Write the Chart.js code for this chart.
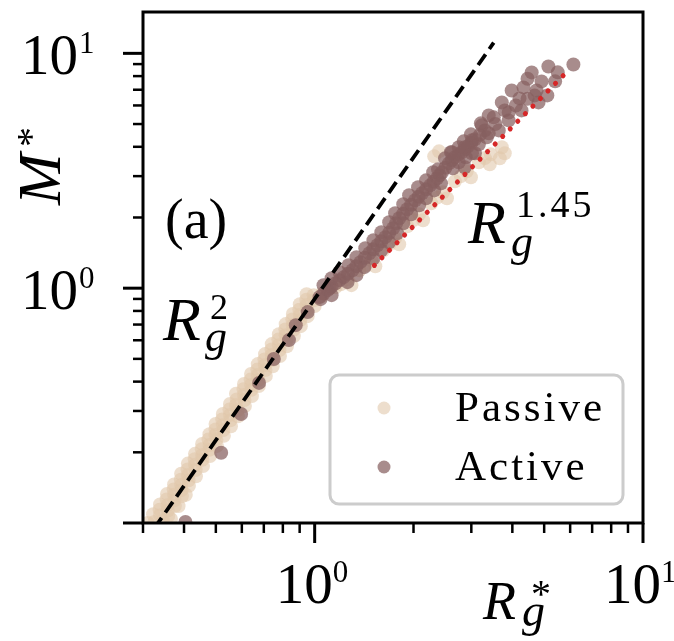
<!DOCTYPE html>
<html>
<head>
<meta charset="utf-8">
<script src="https://cdn.jsdelivr.net/npm/chart.js@4.4.1/dist/chart.umd.min.js"></script>
<style>
  html, body { margin: 0; padding: 0; background: #fff; }
  canvas { display: block; }
</style>
</head>
<body>
<canvas id="grafico" width="674" height="641"></canvas>
<script>
// Passive: dense band along R^2 (below 1), then the flatter branch above 1
const passiveR = [
  0.322, 0.338, 0.358, 0.338, 0.356, 0.375, 0.355, 0.373, 0.394, 0.373, 0.392, 0.414,
  0.392, 0.411, 0.435, 0.411, 0.432, 0.457, 0.432, 0.454, 0.480, 0.454, 0.478, 0.504,
  0.478, 0.499, 0.529, 0.499, 0.525, 0.556, 0.525, 0.552, 0.584, 0.552, 0.576, 0.613,
  0.576, 0.609, 0.644, 0.609, 0.640, 0.676, 0.640, 0.671, 0.710, 0.671, 0.705, 0.745,
  0.706, 0.740, 0.784, 0.740, 0.778, 0.823, 0.778, 0.816, 0.864, 0.816, 0.858, 0.907,
  0.858, 0.901, 0.952, 0.901, 0.945, 1.000, 0.945, 0.993, 1.050,
  0.337, 0.357, 0.354, 0.374, 0.372, 0.393, 0.391, 0.413, 0.410, 0.434, 0.431, 0.455,
  0.453, 0.478, 0.475, 0.502, 0.499, 0.527, 0.523, 0.554, 0.550, 0.583, 0.579, 0.611,
  0.607, 0.642, 0.638, 0.674, 0.669, 0.708, 0.703, 0.743, 0.739, 0.781, 0.775, 0.821,
  0.814, 0.861, 0.855, 0.904, 0.898, 0.949, 0.943, 0.997,
  0.310, 0.325, 0.345, 0.365, 0.385, 0.405,
  1.057, 1.158, 1.259, 1.368, 1.489, 1.618, 1.758, 1.913, 2.080, 2.264, 2.460, 2.673,
  2.905, 3.163, 3.438, 3.715,
  2.392, 2.312, 3.663, 3.793, 3.414,
  1.294, 1.530, 1.809, 2.139, 2.529, 2.992,
  1.20, 1.43, 1.69, 2.00, 2.36, 2.79, 3.30
];
const passiveM = [
  0.109, 0.108, 0.107, 0.120, 0.119, 0.118, 0.133, 0.132, 0.130, 0.146, 0.145, 0.144,
  0.162, 0.160, 0.158, 0.179, 0.177, 0.175, 0.197, 0.195, 0.193, 0.217, 0.215, 0.213,
  0.239, 0.237, 0.235, 0.264, 0.261, 0.258, 0.291, 0.288, 0.285, 0.321, 0.318, 0.315,
  0.355, 0.351, 0.347, 0.391, 0.387, 0.383, 0.431, 0.427, 0.423, 0.475, 0.470, 0.465,
  0.524, 0.519, 0.514, 0.578, 0.572, 0.566, 0.637, 0.631, 0.625, 0.703, 0.696, 0.689,
  0.776, 0.768, 0.760, 0.855, 0.847, 0.839, 0.943, 0.934, 0.925,
  0.114, 0.113, 0.126, 0.125, 0.139, 0.138, 0.153, 0.152, 0.169, 0.168, 0.187, 0.186,
  0.206, 0.205, 0.227, 0.226, 0.250, 0.249, 0.276, 0.274, 0.304, 0.302, 0.336, 0.334,
  0.371, 0.369, 0.408, 0.406, 0.450, 0.448, 0.497, 0.494, 0.548, 0.545, 0.604, 0.601,
  0.667, 0.663, 0.735, 0.731, 0.810, 0.806, 0.893, 0.889,
  0.100, 0.101, 0.102, 0.104, 0.118, 0.132,
  0.952, 1.010, 1.092, 1.193, 1.315, 1.450, 1.632, 1.835, 2.064, 2.299, 2.560, 2.851,
  3.146, 3.434, 3.715, 3.981,
  3.826, 3.642, 3.572, 3.752, 3.368,
  1.030, 1.240, 1.538, 1.946, 2.414, 2.967,
  1.04, 1.25, 1.54, 1.95, 2.43, 3.00, 3.58
];

// Active: a few points on the R^2 part, then a thick band up to ~6
const activeR = [
  0.404, 0.519, 0.597, 0.677, 0.751, 0.835, 0.876, 0.952, 1.042, 1.110,
  1.035, 1.095, 1.158, 1.225, 1.303, 1.378, 1.468, 1.552, 1.641, 1.734,
  1.809, 1.913, 2.023, 2.124, 2.248, 2.360, 2.443, 2.563, 2.673, 2.806,
  2.929, 3.076, 3.298,
  1.065, 1.126, 1.191, 1.263, 1.340, 1.422, 1.509, 1.596, 1.687, 1.771, 1.860,
  1.967, 2.073, 2.185, 2.303, 2.401, 2.502, 2.617, 2.739, 2.867, 3.002, 3.185,
  1.190, 1.340, 1.510, 1.686, 1.861, 2.065, 2.296, 2.494,
  1.064, 1.126, 1.268, 1.426, 1.596, 1.758, 1.939, 2.184, 2.375, 2.600, 2.845, 2.992, 3.208,
  1.259, 1.417, 1.596, 1.782, 1.967, 2.184, 2.426, 2.636,
  1.126, 1.510, 1.686, 2.885, 3.163, 3.389, 1.340, 1.861, 2.080, 2.312, 2.747, 3.013,
  6.138, 5.150, 4.581, 4.909, 4.326, 4.741, 5.113, 3.981, 4.206, 4.806,
  3.715, 3.793, 4.266, 3.511, 3.897, 3.230, 3.637, 3.343, 3.013, 2.865,
  3.076, 2.865, 3.389, 4.677, 2.747, 2.618,
  4.45, 5.50, 5.40, 4.10, 3.55, 4.45, 3.90
];
const activeM = [
  0.101, 0.199, 0.291, 0.395, 0.499, 0.601, 0.696, 0.791, 0.898, 1.000,
  0.916, 0.981, 1.050, 1.114, 1.193, 1.291, 1.408, 1.523, 1.649, 1.799,
  1.985, 2.167, 2.367, 2.535, 2.741, 2.937, 3.116, 3.401, 3.609, 3.789,
  4.018, 4.303, 4.698,
  0.948, 1.015, 1.082, 1.153, 1.241, 1.348, 1.464, 1.585, 1.722, 1.890, 2.074,
  2.265, 2.450, 2.636, 2.837, 3.025, 3.255, 3.503, 3.698, 3.902, 4.158, 4.496,
  1.170, 1.354, 1.599, 1.909, 2.276, 2.689, 3.116, 3.572,
  1.030, 1.103, 1.253, 1.479, 1.731, 2.084, 2.486, 2.878, 3.207, 3.789, 4.220, 4.519, 5.033,
  1.061, 1.229, 1.450, 1.714, 2.064, 2.414, 2.795, 3.238,
  0.934, 1.341, 1.569, 3.609, 4.098, 4.564, 1.136, 1.890, 2.254, 2.609, 3.434, 3.752,
  8.969, 8.795, 8.295, 7.594, 7.163, 6.952, 6.621, 6.952, 6.429, 6.183,
  6.183, 5.715, 5.715, 5.340, 5.182, 4.935, 4.698, 4.390, 4.261, 3.981,
  3.752, 3.272, 5.443, 6.621, 3.981, 3.789,
  7.80, 8.30, 7.60, 6.00, 5.00, 6.40, 5.60
];

// guide lines (end points)
const guia2R = [0.3, 3.51];
const guia2M = [0.081, 11.1];
const guia145R = [1.52, 5.93];
const guia145M = [1.25, 8.47];

// axis ticks
const xTicks = [1, 10];
const yTicks = [1, 10];
const decadas = [0.1, 1];

const corPassive = "rgba(225, 200, 172, 0.6)";
const corActive = "rgba(135, 95, 95, 0.72)";
const fonte = "'Liberation Serif', 'Times New Roman', serif";

const pontos = (xs, ys) => xs.map((v, i) => ({ x: v, y: ys[i] }));

function escreve(ctx, str, x, y, font, espaco) {
  ctx.font = font;
  ctx.letterSpacing = (espaco || 0) + "px";
  ctx.fillText(str, x, y);
  ctx.letterSpacing = "0px";
}

const eixos = {
  id: "eixos",
  afterDatasetsDraw(chart) {
    const { ctx, chartArea: a, scales: { x, y } } = chart;
    ctx.save();
    ctx.strokeStyle = "#000";
    ctx.lineCap = "butt";
    ctx.setLineDash([]);

    const traco = (x1, y1, x2, y2, w) => {
      ctx.lineWidth = w;
      ctx.beginPath();
      ctx.moveTo(x1, y1);
      ctx.lineTo(x2, y2);
      ctx.stroke();
    };

    // minor ticks
    decadas.forEach(d => {
      for (let k = 2; k <= 9; k++) {
        const v = d * k;
        if (v > x.min && v < x.max) {
          const px = x.getPixelForValue(v);
          traco(px, a.bottom, px, a.bottom + 10, 2.5);
        }
        if (v > y.min && v < y.max) {
          const py = y.getPixelForValue(v);
          traco(a.left, py, a.left - 10, py, 2.5);
        }
      }
    });

    // major ticks
    [0.1, 1, 10].forEach(v => {
      if (v >= x.min && v <= x.max) {
        const px = x.getPixelForValue(v);
        traco(px, a.bottom, px, a.bottom + 20, 3);
      }
      if (v >= y.min && v <= y.max) {
        const py = y.getPixelForValue(v);
        traco(a.left, py, a.left - 20, py, 3);
      }
    });

    // spines
    ctx.lineWidth = 3;
    ctx.strokeRect(a.left, a.top, a.right - a.left, a.bottom - a.top);
    ctx.restore();
  }
};

const textos = {
  id: "textos",
  afterDraw(chart) {
    const { ctx, scales: { x, y } } = chart;
    ctx.save();
    ctx.fillStyle = "#000";
    ctx.textBaseline = "alphabetic";

    // tick labels
    xTicks.forEach(v => {
      const px = x.getPixelForValue(v);
      ctx.textAlign = "left";
      escreve(ctx, "10", px - 39, 603, "57px " + fonte);
      escreve(ctx, String(Math.round(Math.log10(v))), px + 18, 582, "31px " + fonte);
    });
    yTicks.forEach(v => {
      const py = y.getPixelForValue(v);
      ctx.textAlign = "right";
      escreve(ctx, "10", 78, py + 21, "57px " + fonte);
      ctx.textAlign = "left";
      escreve(ctx, String(Math.round(Math.log10(v))), 79, py, "31px " + fonte);
    });
    ctx.textAlign = "left";

    // x axis title R_g^*
    escreve(ctx, "R", 483, 619, "italic 54px " + fonte);
    escreve(ctx, "g", 522, 626, "italic 46px " + fonte);
    escreve(ctx, "*", 531, 607, "40px " + fonte);

    // y axis title M^*
    ctx.save();
    ctx.translate(60, 205);
    ctx.rotate(-Math.PI / 2);
    escreve(ctx, "M", 0, 0, "italic 62px " + fonte);
    escreve(ctx, "*", 58, -16, "40px " + fonte);
    ctx.restore();

    // annotations
    escreve(ctx, "(a)", 165, 238, "56px " + fonte);
    escreve(ctx, "R", 163, 340, "italic 62px " + fonte);
    escreve(ctx, "2", 210, 319, "36px " + fonte);
    escreve(ctx, "g", 205, 351, "italic 44px " + fonte);
    escreve(ctx, "R", 468, 243, "italic 62px " + fonte);
    escreve(ctx, "1.45", 516, 217, "38px " + fonte, 3);
    escreve(ctx, "g", 511, 256, "italic 44px " + fonte);

    // legend
    const lx = 330, ly = 375, lw = 293, lh = 129, r = 9;
    ctx.beginPath();
    ctx.moveTo(lx + r, ly);
    ctx.arcTo(lx + lw, ly, lx + lw, ly + lh, r);
    ctx.arcTo(lx + lw, ly + lh, lx, ly + lh, r);
    ctx.arcTo(lx, ly + lh, lx, ly, r);
    ctx.arcTo(lx, ly, lx + lw, ly, r);
    ctx.closePath();
    ctx.fillStyle = "rgba(255, 255, 255, 0.8)";
    ctx.fill();
    ctx.strokeStyle = "#cccccc";
    ctx.lineWidth = 3;
    ctx.stroke();

    const itens = chart.data.datasets.filter(d => d.naLegenda);
    itens.forEach((d, i) => {
      const cy = 408 + i * 59;
      ctx.fillStyle = d.backgroundColor;
      ctx.beginPath();
      ctx.arc(384, cy, 6.5, 0, Math.PI * 2);
      ctx.fill();
      ctx.fillStyle = "#000";
      escreve(ctx, d.label, 455, cy + 13, "43px " + fonte, 3);
    });

    ctx.restore();
  }
};

const ctx = document.getElementById("grafico").getContext("2d");

new Chart(ctx, {
  type: "scatter",
  data: {
    datasets: [
      {
        label: "Passive",
        naLegenda: true,
        data: pontos(passiveR, passiveM),
        backgroundColor: corPassive,
        borderWidth: 0,
        pointRadius: 7,
        pointHoverRadius: 7,
        order: 3,
        clip: 0
      },
      {
        label: "Active",
        naLegenda: true,
        data: pontos(activeR, activeM),
        backgroundColor: corActive,
        borderWidth: 0,
        pointRadius: 7,
        pointHoverRadius: 7,
        order: 2,
        clip: 0
      },
      {
        type: "line",
        label: "R2",
        data: pontos(guia2R, guia2M),
        borderColor: "#000",
        borderWidth: 3.8,
        borderDash: [13, 6.5],
        pointRadius: 0,
        fill: false,
        tension: 0,
        order: 1,
        clip: 0
      },
      {
        type: "line",
        label: "R145",
        data: pontos(guia145R, guia145M),
        borderColor: "#d62728",
        borderWidth: 5,
        borderDash: [0.1, 10.6],
        borderCapStyle: "round",
        pointRadius: 0,
        fill: false,
        tension: 0,
        order: 0,
        clip: 0
      }
    ]
  },
  options: {
    responsive: false,
    animation: false,
    devicePixelRatio: 1,
    events: [],
    layout: { padding: { left: 143, right: 31, top: 12, bottom: 118 } },
    plugins: {
      legend: { display: false },
      tooltip: { enabled: false }
    },
    scales: {
      x: { type: "logarithmic", min: 0.307, max: 10, display: false },
      y: { type: "logarithmic", min: 0.1, max: 15, display: false }
    }
  },
  plugins: [eixos, textos]
});
</script>
</body>
</html>
